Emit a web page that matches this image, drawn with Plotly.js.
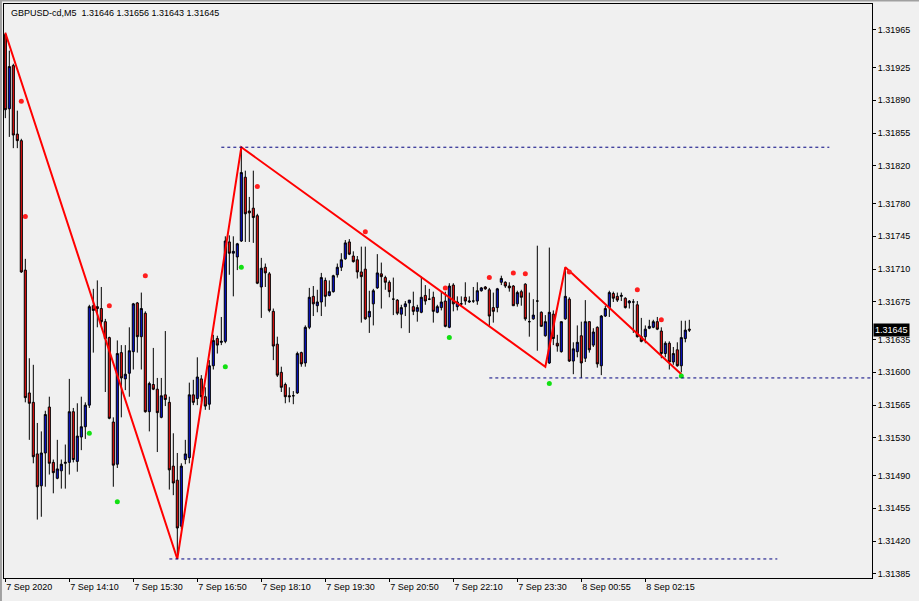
<!DOCTYPE html>
<html><head><meta charset="utf-8">
<script src="https://cdn.plot.ly/plotly-3.0.1.min.js"></script>
<style>html,body{margin:0;padding:0;background:#f0f0f0;} #chart{width:919px;height:601px;}</style>
</head><body><div id="chart"></div>
<script>
const symbolTitle = 'GBPUSD-cd,M5  1.31646 1.31656 1.31643 1.31645';
const tickBars = [0,16,32,48,64,80,96,112,128,144,160];
const tickLabels = ['7 Sep 2020','7 Sep 14:10','7 Sep 15:30','7 Sep 16:50','7 Sep 18:10','7 Sep 19:30','7 Sep 20:50','7 Sep 22:10','7 Sep 23:30','8 Sep 00:55','8 Sep 02:15'];
const priceTicks = [1.31965,1.31925,1.31890,1.31855,1.31820,1.31780,1.31745,1.31710,1.31675,1.31635,1.31600,1.31565,1.31530,1.31490,1.31455,1.31420,1.31385];

const openP = [1.31960,1.31881,1.31927,1.31854,1.31847,1.31709,1.31578,1.31568,1.31513,1.31479,
1.31514,1.31563,1.31504,1.31487,1.31495,1.31503,1.31504,1.31558,1.31505,1.31531,
1.31542,1.31565,1.31671,1.31670,1.31668,1.31654,1.31637,1.31547,1.31502,1.31621,
1.31593,1.31599,1.31622,1.31674,1.31638,1.31663,1.31558,1.31587,1.31582,1.31552,
1.31576,1.31568,1.31500,1.31485,1.31436,1.31507,1.31509,1.31576,1.31572,1.31593,
1.31574,1.31566,1.31607,1.31636,1.31632,1.31633,1.31739,1.31727,1.31723,1.31740,
1.31808,1.31772,1.31775,1.31767,1.31691,1.31712,1.31705,1.31665,1.31630,1.31600,
1.31587,1.31575,1.31575,1.31578,1.31621,1.31610,1.31648,1.31681,1.31671,1.31675,
1.31698,1.31682,1.31686,1.31704,1.31712,1.31721,1.31739,1.31724,1.31720,1.31707,
1.31710,1.31659,1.31673,1.31690,1.31705,1.31701,1.31696,1.31678,1.31677,1.31662,
1.31670,1.31674,1.31670,1.31665,1.31664,1.31682,1.31678,1.31680,1.31664,1.31669,
1.31676,1.31648,1.31693,1.31670,1.31673,1.31680,1.31675,1.31676,1.31676,1.31687,
1.31691,1.31688,1.31669,1.31669,1.31696,1.31696,1.31692,1.31692,1.31673,1.31686,
1.31694,1.31654,1.31657,1.31676,1.31664,1.31639,1.31610,1.31662,1.31631,1.31622,
1.31657,1.31678,1.31612,1.31622,1.31639,1.31615,1.31654,1.31629,1.31648,1.31607,
1.31660,1.31669,1.31684,1.31681,1.31681,1.31679,1.31674,1.31675,1.31672,1.31638,
1.31638,1.31647,1.31648,1.31654,1.31644,1.31620,1.31631,1.31611,1.31624,1.31607,
1.31636,1.31646];
const highP = [1.31962,1.31943,1.31929,1.31879,1.31849,1.31721,1.31615,1.31608,1.31546,1.31537,
1.31559,1.31574,1.31507,1.31528,1.31507,1.31523,1.31593,1.31562,1.31567,1.31574,
1.31568,1.31672,1.31689,1.31698,1.31691,1.31657,1.31638,1.31552,1.31634,1.31629,
1.31629,1.31648,1.31674,1.31675,1.31685,1.31665,1.31590,1.31626,1.31594,1.31594,
1.31644,1.31574,1.31535,1.31514,1.31503,1.31528,1.31589,1.31592,1.31616,1.31597,
1.31584,1.31613,1.31640,1.31639,1.31659,1.31745,1.31746,1.31745,1.31738,1.31840,
1.31815,1.31787,1.31815,1.31769,1.31722,1.31716,1.31707,1.31668,1.31638,1.31606,
1.31589,1.31584,1.31580,1.31622,1.31622,1.31650,1.31690,1.31692,1.31688,1.31706,
1.31701,1.31698,1.31704,1.31716,1.31727,1.31741,1.31742,1.31729,1.31724,1.31734,
1.31734,1.31687,1.31689,1.31726,1.31717,1.31703,1.31698,1.31701,1.31678,1.31672,
1.31676,1.31677,1.31686,1.31672,1.31702,1.31693,1.31689,1.31686,1.31672,1.31686,
1.31686,1.31695,1.31695,1.31681,1.31681,1.31696,1.31681,1.31691,1.31696,1.31691,
1.31692,1.31690,1.31685,1.31690,1.31703,1.31697,1.31696,1.31693,1.31687,1.31688,
1.31695,1.31685,1.31678,1.31735,1.31665,1.31661,1.31733,1.31666,1.31640,1.31654,
1.31712,1.31680,1.31632,1.31650,1.31654,1.31677,1.31654,1.31647,1.31649,1.31661,
1.31671,1.31687,1.31686,1.31685,1.31685,1.31680,1.31677,1.31678,1.31676,1.31658,
1.31650,1.31656,1.31656,1.31659,1.31648,1.31633,1.31633,1.31627,1.31632,1.31655,
1.31655,1.31656];
const lowP = [1.31871,1.31851,1.31839,1.31839,1.31706,1.31568,1.31528,1.31503,1.31443,1.31446,
1.31478,1.31491,1.31471,1.31486,1.31476,1.31476,1.31491,1.31504,1.31494,1.31517,
1.31529,1.31562,1.31621,1.31648,1.31648,1.31579,1.31550,1.31478,1.31498,1.31552,
1.31581,1.31574,1.31603,1.31621,1.31603,1.31557,1.31537,1.31581,1.31515,1.31551,
1.31564,1.31475,1.31469,1.31401,1.31433,1.31502,1.31503,1.31565,1.31565,1.31568,
1.31560,1.31560,1.31603,1.31620,1.31629,1.31631,1.31704,1.31681,1.31709,1.31739,
1.31739,1.31739,1.31738,1.31694,1.31658,1.31691,1.31664,1.31613,1.31595,1.31579,
1.31567,1.31568,1.31566,1.31577,1.31606,1.31606,1.31646,1.31660,1.31664,1.31660,
1.31670,1.31681,1.31685,1.31701,1.31708,1.31720,1.31725,1.31717,1.31700,1.31653,
1.31656,1.31642,1.31650,1.31689,1.31668,1.31688,1.31680,1.31661,1.31661,1.31647,
1.31660,1.31642,1.31661,1.31654,1.31663,1.31672,1.31677,1.31653,1.31663,1.31666,
1.31648,1.31647,1.31665,1.31666,1.31671,1.31672,1.31674,1.31674,1.31672,1.31686,
1.31688,1.31649,1.31653,1.31664,1.31693,1.31690,1.31686,1.31671,1.31670,1.31671,
1.31655,1.31638,1.31656,1.31623,1.31649,1.31638,1.31609,1.31629,1.31622,1.31621,
1.31656,1.31611,1.31598,1.31616,1.31594,1.31611,1.31621,1.31627,1.31605,1.31597,
1.31659,1.31659,1.31675,1.31675,1.31676,1.31668,1.31668,1.31642,1.31637,1.31632,
1.31631,1.31646,1.31647,1.31645,1.31615,1.31616,1.31603,1.31608,1.31606,1.31600,
1.31632,1.31643];
const closeP = [1.31880,1.31926,1.31853,1.31847,1.31707,1.31573,1.31567,1.31510,1.31478,1.31514,
1.31555,1.31503,1.31493,1.31497,1.31502,1.31504,1.31558,1.31507,1.31532,1.31542,
1.31565,1.31670,1.31666,1.31668,1.31654,1.31636,1.31551,1.31501,1.31620,1.31594,
1.31598,1.31623,1.31673,1.31638,1.31668,1.31558,1.31588,1.31582,1.31557,1.31575,
1.31571,1.31496,1.31482,1.31434,1.31500,1.31513,1.31576,1.31568,1.31595,1.31574,
1.31564,1.31607,1.31634,1.31629,1.31633,1.31740,1.31727,1.31729,1.31737,1.31813,
1.31769,1.31770,1.31765,1.31695,1.31711,1.31706,1.31666,1.31628,1.31597,1.31584,
1.31574,1.31574,1.31575,1.31620,1.31609,1.31648,1.31680,1.31673,1.31675,1.31701,
1.31681,1.31686,1.31703,1.31712,1.31720,1.31738,1.31726,1.31718,1.31707,1.31702,
1.31657,1.31665,1.31687,1.31706,1.31702,1.31696,1.31686,1.31678,1.31663,1.31669,
1.31673,1.31677,1.31665,1.31669,1.31680,1.31676,1.31678,1.31665,1.31670,1.31675,
1.31649,1.31692,1.31673,1.31675,1.31673,1.31676,1.31676,1.31676,1.31687,1.31690,
1.31689,1.31660,1.31665,1.31689,1.31700,1.31692,1.31690,1.31671,1.31685,1.31680,
1.31657,1.31654,1.31661,1.31676,1.31649,1.31654,1.31664,1.31636,1.31628,1.31654,
1.31681,1.31612,1.31625,1.31632,1.31610,1.31654,1.31624,1.31643,1.31609,1.31660,
1.31668,1.31685,1.31679,1.31677,1.31682,1.31669,1.31676,1.31675,1.31638,1.31633,
1.31646,1.31649,1.31654,1.31646,1.31620,1.31631,1.31611,1.31620,1.31607,1.31637,
1.31645,1.31645];

const zigzagBars = [0,43,59,135,140,169];
const zigzagPrices = [1.31962,1.31401,1.31840,1.31606,1.31712,1.31598];
const redDotBars = [4,5,26,35,63,90,110,121,127,130,141,158,164];
const redDotPrices = [1.31889,1.31766,1.31671,1.31703,1.31798,1.31750,1.31690,1.31701,1.31706,1.31705,1.31707,1.31688,1.31656];
const greenDotBars = [21,28,55,59,111,136,169];
const greenDotPrices = [1.31535,1.31462,1.31606,1.31712,1.31637,1.31588,1.31596];
const levelPrices = [1.31840,1.31594,1.31401];
const levelFrom = [54,121,41];
const levelTo = [206,217,193];
const lastPrice = 1.31645;

const bars = openP.map((_, i) => i);
const FONT = 'Liberation Sans, Arial, sans-serif';

const traces = [
  {type:'candlestick', x:bars, open:openP, high:highP, low:lowP, close:closeP,
   increasing:{line:{color:'#000000', width:1}, fillcolor:'#0a14d2'},
   decreasing:{line:{color:'#000000', width:1}, fillcolor:'#ee1111'},
   whiskerwidth:0, hoverinfo:'skip', showlegend:false},
  {type:'scatter', mode:'lines', x:zigzagBars, y:zigzagPrices,
   line:{color:'#ff0000', width:2}, hoverinfo:'skip', showlegend:false},
  {type:'scatter', mode:'markers', x:redDotBars, y:redDotPrices,
   marker:{color:'#ff1e1e', size:5}, hoverinfo:'skip', showlegend:false},
  {type:'scatter', mode:'markers', x:greenDotBars, y:greenDotPrices,
   marker:{color:'#12e012', size:5}, hoverinfo:'skip', showlegend:false}
];

const shapes = levelPrices.map((p, k) => ({
  type:'line', xref:'x', yref:'y', x0:levelFrom[k], x1:levelTo[k], y0:p, y1:p,
  line:{color:'#000080', width:1, dash:'3px,3px'}
}));
shapes.push({type:'line', xref:'paper', yref:'paper', x0:-0.01, x1:1.06, y0:1.0063, y1:1.0063, line:{color:'#a0a0a0', width:2}});
shapes.push({type:'line', xref:'paper', yref:'paper', x0:-0.0035, x1:-0.0035, y0:-0.05, y1:1.01, line:{color:'#a0a0a0', width:2}});

const layout = {
  width:919, height:601,
  margin:{l:4, r:47, t:4, b:23, pad:0},
  paper_bgcolor:'#f0f0f0', plot_bgcolor:'#f0f0f0',
  showlegend:false, boxgap:0.25,
  font:{family:FONT, size:9, color:'#000000'},
  xaxis:{type:'linear', range:[-0.33, 216.67], rangeslider:{visible:false},
    showgrid:false, zeroline:false, showline:true, mirror:true, linecolor:'#000000', linewidth:1,
    ticks:'outside', ticklen:3, tickcolor:'#000000', tickvals:tickBars, ticktext:tickLabels,
    ticklabelposition:'outside right', tickfont:{family:FONT, size:9, color:'#000000'}, fixedrange:true},
  yaxis:{type:'linear', range:[1.313807, 1.319927], side:'right',
    showgrid:false, zeroline:false, showline:true, mirror:true, linecolor:'#000000', linewidth:1,
    ticks:'outside', ticklen:3, tickcolor:'#000000', tickvals:priceTicks,
    ticktext:priceTicks.map(v => v.toFixed(5)), tickfont:{family:FONT, size:9, color:'#000000'}, fixedrange:true},
  shapes:shapes,
  annotations:[
    {xref:'paper', yref:'paper', x:0.006, y:0.984, xanchor:'left', yanchor:'middle', showarrow:false,
     text:symbolTitle, font:{family:FONT, size:9, color:'#000000'}},
    {xref:'paper', yref:'y', x:1, y:lastPrice, xanchor:'left', yanchor:'middle', xshift:1, showarrow:false,
     text:lastPrice.toFixed(5), bgcolor:'#000000', borderpad:1, font:{family:FONT, size:9, color:'#ffffff'}}
  ]
};

Plotly.newPlot('chart', traces, layout, {staticPlot:true, displayModeBar:false});
</script></body></html>
